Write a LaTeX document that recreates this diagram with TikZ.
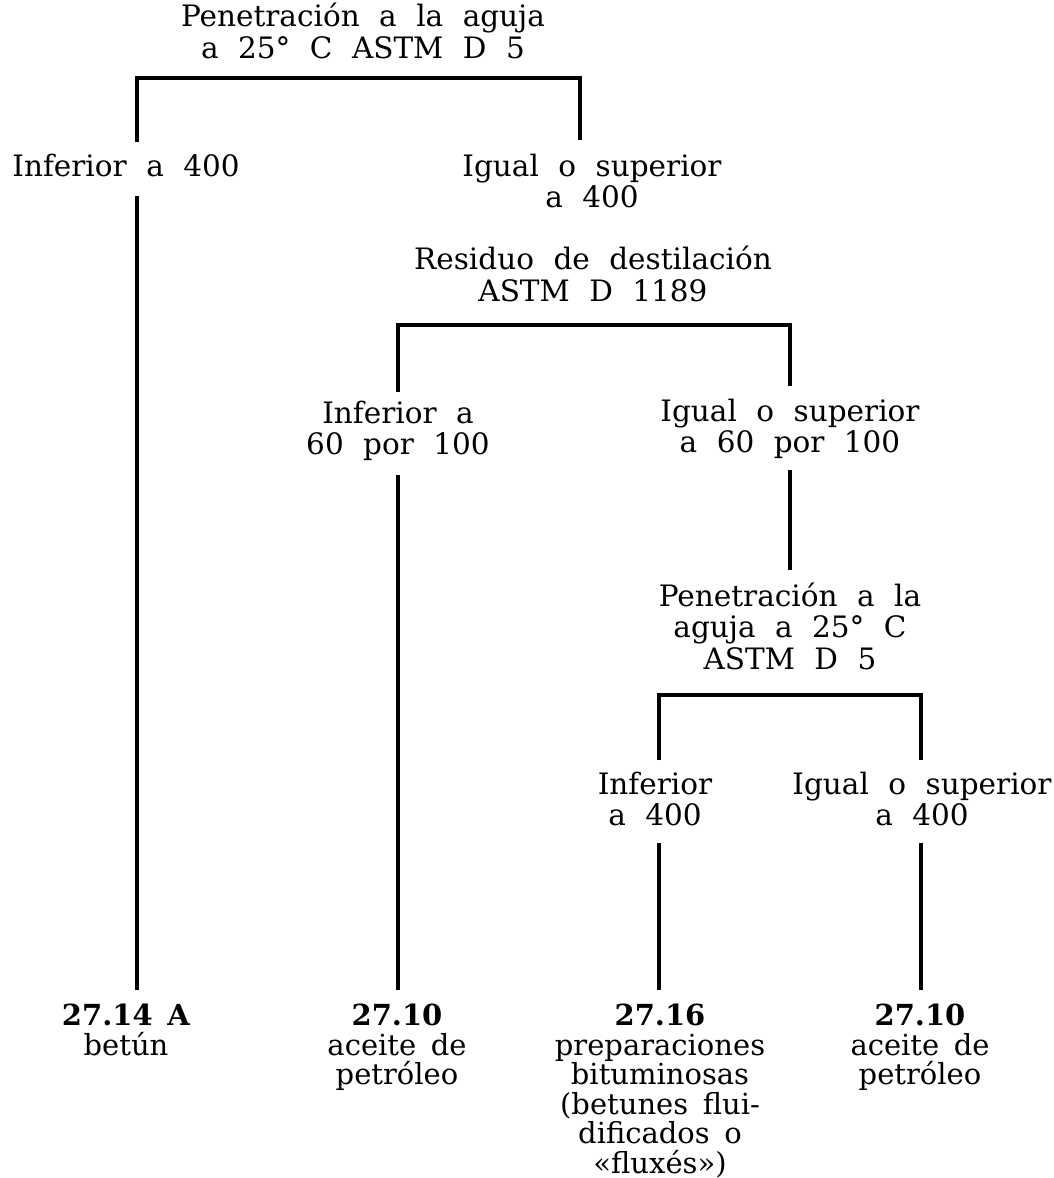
\documentclass[tikz,border=0pt]{standalone}
\usepackage{fontspec}
\setmainfont{DejaVu Serif}
\newcommand\tfontA{\fontsize{29.5}{31.5}\selectfont\spaceskip=0.66em\relax}
\newcommand\tfontB{\fontsize{29}{29.5}\selectfont\spaceskip=0.5em\relax}
\begin{document}
\begin{tikzpicture}[x=1pt,y=-1pt,
  txt/.style={align=center,inner sep=0pt,font=\tfontA},
  btxt/.style={align=center,inner sep=0pt,font=\tfontB,anchor=north},
  ln/.style={line width=3.2pt}]
\useasboundingbox (0,0) rectangle (1053,1178);
% text nodes
\node[txt] (q1) at (363,31) {Penetración a la aguja\\a 25° C ASTM D 5};
\node[txt] (a1) at (126,165) {Inferior a 400};
\node[txt] (b1) at (592,181) {Igual o superior\\a 400};
\node[txt] (q2) at (593,274) {Residuo de destilación\\ASTM D 1189};
\node[txt] (a2) at (398,431) {Inferior a\\60 por 100};
\node[txt] (b2) at (790,429) {Igual o superior\\a 60 por 100};
\node[txt] (q3) at (790,626) {Penetración a la\\aguja a 25° C\\ASTM D 5};
\node[txt] (a3) at (655,799) {Inferior\\a 400};
\node[txt] (b3) at (922,799) {Igual o superior\\a 400};
\node[btxt] (r1) at (126,1004) {\textbf{27.14 A}\\betún};
\node[btxt] (r2) at (397,1004) {\textbf{27.10}\\aceite de\\petróleo};
\node[btxt] (r3) at (660,1004) {\textbf{27.16}\\preparaciones\\bituminosas\\(betunes flui-\\dificados o\\«fluxés»)};
\node[btxt] (r4) at (920,1004) {\textbf{27.10}\\aceite de\\petróleo};
% bracket coordinates
\coordinate (k1l) at (137,78);  \coordinate (k1r) at (580,78);
\coordinate (a1t) at (137,142); \coordinate (b1t) at (580,140);
\coordinate (a1b) at (137,196); \coordinate (r1t) at (137,990);
\coordinate (k2l) at (398,325); \coordinate (k2r) at (790,325);
\coordinate (a2t) at (398,392); \coordinate (b2t) at (790,386);
\coordinate (a2b) at (398,475); \coordinate (r2t) at (398,990);
\coordinate (b2b) at (790,470); \coordinate (q3t) at (790,570);
\coordinate (k3l) at (659,695); \coordinate (k3r) at (921,695);
\coordinate (a3t) at (659,760); \coordinate (b3t) at (921,760);
\coordinate (a3b) at (659,843); \coordinate (r3t) at (659,990);
\coordinate (b3b) at (921,843); \coordinate (r4t) at (921,990);
% connectors
\draw[ln] (a1t) -- (k1l) -- (k1r) -- (b1t);
\draw[ln] (a1b) -- (r1t);
\draw[ln] (a2t) -- (k2l) -- (k2r) -- (b2t);
\draw[ln] (a2b) -- (r2t);
\draw[ln] (b2b) -- (q3t);
\draw[ln] (a3t) -- (k3l) -- (k3r) -- (b3t);
\draw[ln] (a3b) -- (r3t);
\draw[ln] (b3b) -- (r4t);
\end{tikzpicture}
\end{document}
